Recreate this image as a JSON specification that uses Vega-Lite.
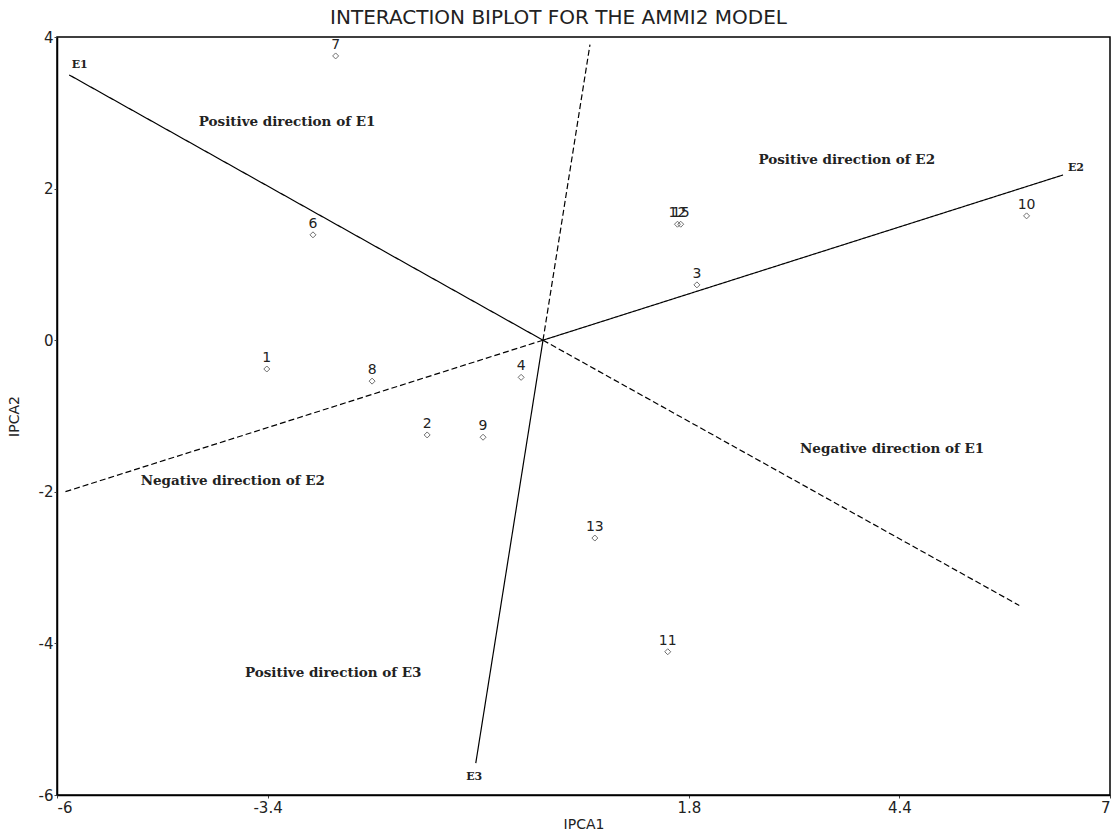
{
  "$schema": "https://vega.github.io/schema/vega-lite/v6.json",
  "autosize": "none",
  "width": 1053,
  "height": 758,
  "padding": {"left": 57, "top": 37, "right": 6, "bottom": 38},
  "background": "white",
  "title": {
    "text": "INTERACTION BIPLOT FOR THE AMMI2 MODEL",
    "font": "DejaVu Sans",
    "fontSize": 20,
    "fontWeight": "normal",
    "color": "#222",
    "anchor": "middle",
    "dx": -25,
    "offset": 2
  },
  "config": {
    "view": {"stroke": "black", "strokeWidth": 1.5},
    "axis": {"grid": false, "domainColor": "black", "domainWidth": 1.5, "tickColor": "#444", "tickSize": 3,
      "labelFont": "DejaVu Sans", "labelFontSize": 15, "labelColor": "#222",
      "titleFont": "DejaVu Sans", "titleFontSize": 14, "titleFontWeight": "normal", "titleColor": "#222"}
  },
  "datasets": {
    "genotypes": [
      {"g": "1", "x": -3.41, "y": -0.38},
      {"g": "2", "x": -1.43, "y": -1.25},
      {"g": "3", "x": 1.9, "y": 0.73},
      {"g": "4", "x": -0.27, "y": -0.49},
      {"g": "6", "x": -2.84, "y": 1.39},
      {"g": "7", "x": -2.56, "y": 3.75},
      {"g": "8", "x": -2.11, "y": -0.54},
      {"g": "9", "x": -0.74, "y": -1.28},
      {"g": "10", "x": 5.97, "y": 1.64},
      {"g": "11", "x": 1.54, "y": -4.11},
      {"g": "12", "x": 1.66, "y": 1.53},
      {"g": "13", "x": 0.64, "y": -2.61},
      {"g": "15", "x": 1.7, "y": 1.53}
    ],
    "vectors": [
      {"seg": "E1", "kind": "positive", "x0": 0, "y0": 0, "x": -5.85, "y": 3.5},
      {"seg": "E2", "kind": "positive", "x0": 0, "y0": 0, "x": 6.42, "y": 2.18},
      {"seg": "E3", "kind": "positive", "x0": 0, "y0": 0, "x": -0.83, "y": -5.58},
      {"seg": "E1n", "kind": "negative", "x0": 0, "y0": 0, "x": 5.88, "y": -3.5},
      {"seg": "E2n", "kind": "negative", "x0": 0, "y0": 0, "x": -5.9, "y": -2.0},
      {"seg": "E3n", "kind": "negative", "x0": 0, "y0": 0, "x": 0.58, "y": 3.9}
    ],
    "envlabels": [
      {"label": "E1", "x": -5.72, "y": 3.63},
      {"label": "E2", "x": 6.58, "y": 2.27},
      {"label": "E3", "x": -0.85, "y": -5.76}
    ],
    "notes": [
      {"label": "Positive direction of E1", "x": -3.16, "y": 2.88},
      {"label": "Positive direction of E2", "x": 3.75, "y": 2.38},
      {"label": "Negative direction of E1", "x": 4.31, "y": -1.44},
      {"label": "Negative direction of E2", "x": -3.83, "y": -1.86},
      {"label": "Positive direction of E3", "x": -2.59, "y": -4.39}
    ]
  },
  "layer": [
    {
      "data": {"name": "vectors"},
      "mark": {"type": "rule", "color": "black", "strokeWidth": 1.2},
      "encoding": {
        "x": {"field": "x0", "type": "quantitative",
          "scale": {"domain": [-6, 7], "nice": false, "zero": false},
          "axis": {"values": [-6, -3.4, 1.8, 4.4, 7], "labelExpr": "'' + datum.value", "title": "IPCA1", "titlePadding": 2, "labelPadding": 2}},
        "y": {"field": "y0", "type": "quantitative",
          "scale": {"domain": [-6, 4], "nice": false, "zero": false},
          "axis": {"values": [-6, -4, -2, 0, 2, 4], "labelExpr": "'' + datum.value", "title": "IPCA2", "titlePadding": 17, "labelPadding": 1}},
        "x2": {"field": "x"},
        "y2": {"field": "y"},
        "strokeDash": {"field": "kind", "type": "nominal",
          "scale": {"domain": ["positive", "negative"], "range": [[1, 0], [6, 3]]}, "legend": null}
      }
    },
    {
      "data": {"name": "genotypes"},
      "mark": {"type": "point", "shape": "diamond", "filled": false, "color": "#333", "size": 36, "strokeWidth": 1},
      "encoding": {
        "x": {"field": "x", "type": "quantitative"},
        "y": {"field": "y", "type": "quantitative"}
      }
    },
    {
      "data": {"name": "genotypes"},
      "mark": {"type": "text", "font": "DejaVu Sans", "fontSize": 14, "color": "#222", "dy": -11},
      "encoding": {
        "x": {"field": "x", "type": "quantitative"},
        "y": {"field": "y", "type": "quantitative"},
        "text": {"field": "g"}
      }
    },
    {
      "data": {"name": "envlabels"},
      "mark": {"type": "text", "font": "DejaVu Serif", "fontSize": 11, "fontWeight": "bold", "color": "#222"},
      "encoding": {
        "x": {"field": "x", "type": "quantitative"},
        "y": {"field": "y", "type": "quantitative"},
        "text": {"field": "label"}
      }
    },
    {
      "data": {"name": "notes"},
      "mark": {"type": "text", "font": "DejaVu Serif", "fontSize": 13.5, "fontWeight": "bold", "color": "#222"},
      "encoding": {
        "x": {"field": "x", "type": "quantitative"},
        "y": {"field": "y", "type": "quantitative"},
        "text": {"field": "label"}
      }
    }
  ]
}
